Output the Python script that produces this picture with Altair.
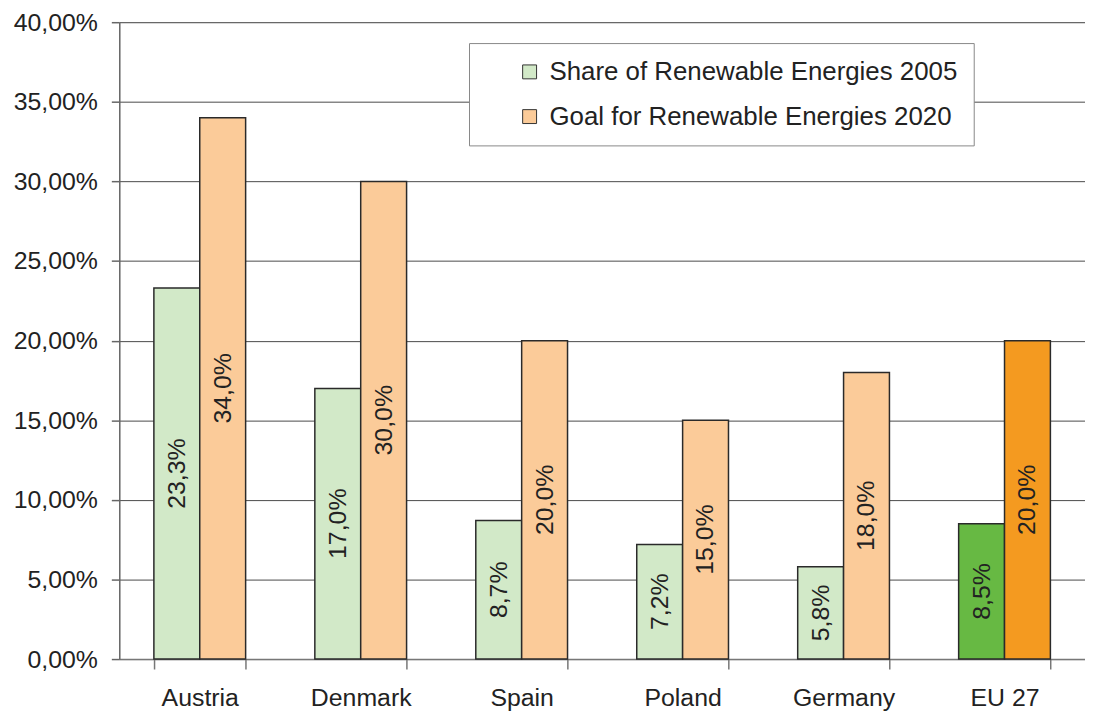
import altair as alt
import pandas as pd

countries = ["Austria", "Denmark", "Spain", "Poland", "Germany", "EU 27"]
share_2005 = [0.233, 0.170, 0.087, 0.072, 0.058, 0.085]
goal_2020 = [0.340, 0.300, 0.200, 0.150, 0.180, 0.200]
series_names = ["Share of Renewable Energies 2005", "Goal for Renewable Energies 2020"]
y_ticks = [0.0, 0.05, 0.10, 0.15, 0.20, 0.25, 0.30, 0.35, 0.40]

color_keys = series_names + ["EU 27 2005", "EU 27 2020"]
color_range = ["#d2e9c8", "#fbcb99", "#67b943", "#f49a20"]

rows = []
for c, a, b in zip(countries, share_2005, goal_2020):
    for s, v in ((series_names[0], a), (series_names[1], b)):
        key = s if c != "EU 27" else ("EU 27 2005" if s == series_names[0] else "EU 27 2020")
        rows.append({
            "country": c,
            "series": s,
            "value": v,
            "mid": v / 2,
            "ckey": key,
            "label": f"{v * 100:.1f}%".replace(".", ","),
        })
df = pd.DataFrame(rows)

FONT = "Liberation Sans"
FS = 25

x_enc = alt.X(
    "country:N",
    sort=countries,
    scale=alt.Scale(paddingInner=0.43, paddingOuter=0.215),
    axis=alt.Axis(
        title=None,
        labelAngle=0,
        labelFontSize=FS,
        labelFont=FONT,
        labelColor="#222222",
        labelPadding=17,
        tickSize=10,
        tickBand="extent",
        tickColor="#777777",
        tickWidth=1.5,
        domainColor="#777777",
        domainWidth=1.5,
        grid=False,
    ),
)
xoff = alt.XOffset("series:N", sort=series_names, scale=alt.Scale(paddingInner=0, paddingOuter=0))

bars = alt.Chart(df).mark_bar(stroke="#2a2a2a", strokeWidth=1.5).encode(
    x=x_enc,
    xOffset=xoff,
    y=alt.Y(
        "value:Q",
        scale=alt.Scale(domain=[0, 0.4], nice=False),
        axis=alt.Axis(
            title=None,
            values=y_ticks,
            labelExpr="replace(format(datum.value, '.2%'), '.', ',')",
            labelFontSize=FS,
            labelFont=FONT,
            labelColor="#222222",
            labelPadding=14,
            tickSize=8,
            tickColor="#666666",
            tickWidth=1.5,
            domainColor="#666666",
            domainWidth=1.5,
            grid=True,
            gridColor="#4a4a4a",
            gridWidth=1,
        ),
    ),
    fill=alt.Fill(
        "ckey:N",
        scale=alt.Scale(domain=color_keys, range=color_range),
        legend=alt.Legend(
            values=series_names,
            title=None,
            orient="none",
            legendX=352,
            legendY=21,
            direction="vertical",
            fillColor="white",
            strokeColor="#888888",
            padding=16,
            symbolType="square",
            symbolSize=196,
            symbolStrokeColor="#333333",
            symbolStrokeWidth=1,
            symbolOffset=32,
            labelFontSize=26,
            labelFont=FONT,
            labelColor="#222222",
            labelOffset=7,
            labelLimit=600,
            rowPadding=19,
        ),
    ),
)

labels = alt.Chart(df).mark_text(
    angle=270, align="center", baseline="middle", fontSize=FS, font=FONT, color="#222222"
).encode(
    x=alt.X("country:N", sort=countries),
    xOffset=alt.XOffset("series:N", sort=series_names),
    y=alt.Y("mid:Q"),
    text="label:N",
)

chart = (
    alt.layer(bars, labels)
    .properties(
        width=972,
        height=641,
        autosize=alt.AutoSizeParams(type="none"),
        padding={"left": 112, "top": 12, "right": 0, "bottom": 54},
    )
    .configure_view(stroke=None)
    .configure(background="white")
)

chart.save("out.html", embed_options={"renderer": "svg", "actions": False})
